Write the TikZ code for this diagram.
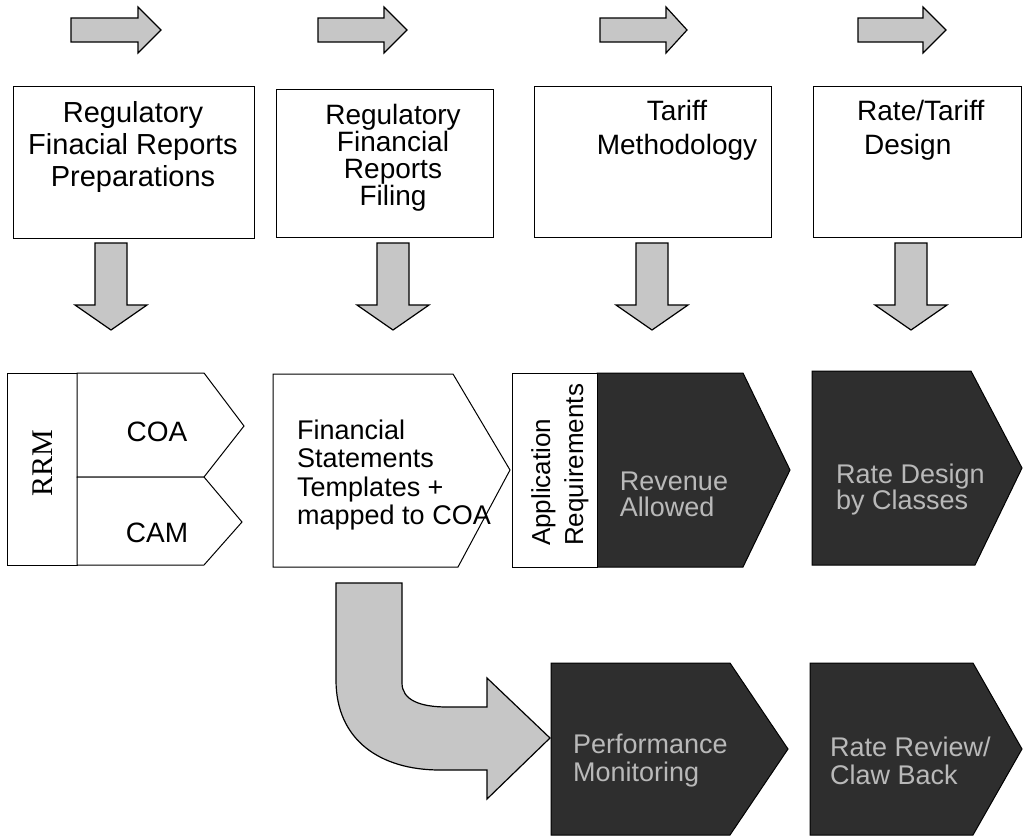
\documentclass[tikz,border=0pt]{standalone}
\usepackage{fontspec}
\setmainfont{Liberation Sans}
\newfontfamily\rrmfont{Liberation Serif}
\begin{document}
\begin{tikzpicture}[x=1pt,y=-1pt,
  line join=miter,
  lightarrow/.style={draw=black,line width=1.2pt,fill=gray!45},
  whitebox/.style={draw=black,line width=1pt,fill=white},
  darkbox/.style={draw=black,line width=1pt,fill=black!82},
  lbl/.style={inner sep=0pt,text=black},
  dlbl/.style={inner sep=0pt,text=gray!55},
]
\useasboundingbox (0,0) rectangle (1023,836);
\fill[white] (0,0) rectangle (1023,836);

% top right-pointing arrows
\foreach \n/\a/\b/\c in {1/71/138/161, 2/318/384/407, 3/600/666/687, 4/858/923/946}{
  \draw[lightarrow] (\a,18) -- (\b,18) -- (\b,7) -- (\c,30) -- (\b,53) -- (\b,42) -- (\a,42) -- cycle;
}

% top boxes
\node[whitebox,minimum width=241pt,minimum height=152pt,anchor=north west] (b1) at (13,86) {};
\node[whitebox,minimum width=217pt,minimum height=148pt,anchor=north west] (b2) at (276,89) {};
\node[whitebox,minimum width=237pt,minimum height=151pt,anchor=north west] (b3) at (534,86) {};
\node[whitebox,minimum width=208pt,minimum height=151pt,anchor=north west] (b4) at (813,86) {};

\node[lbl,align=center,font=\fontsize{29}{32}\selectfont] (t1) at (133,147) {Regulatory\\Finacial Reports\\Preparations};
\node[lbl,align=center,font=\fontsize{28}{27}\selectfont] (t2) at (393,158) {Regulatory\\Financial\\Reports\\Filing};
\node[lbl,align=center,font=\fontsize{28}{34}\selectfont] (t3) at (677,130) {Tariff\\Methodology};
\node[lbl,align=left,font=\fontsize{28}{34}\selectfont,anchor=west] (t4) at (857,130) {Rate/Tariff\\\hspace*{7pt}Design};

% down arrows
\foreach \n/\c in {1/111, 2/393, 3/652, 4/911}{
  \draw[lightarrow] (\c-16,243) -- (\c+16,243) -- (\c+16,305) -- (\c+36,305) -- (\c,330) -- (\c-36,305) -- (\c-16,305) -- cycle;
}

% middle row
\node[whitebox,minimum width=70pt,minimum height=192pt,anchor=north west] (rrm) at (7,373) {};
\node[lbl,rotate=90,font=\rrmfont\fontsize{30}{30}\selectfont] (rrmt) at (43,463) {RRM};
\draw[whitebox] (77,373) -- (204,373) -- (244,426) -- (204,477) -- (77,477) -- cycle;
\draw[whitebox] (77,477) -- (204,477) -- (242,522) -- (204,565) -- (77,565) -- cycle;
\node[lbl,font=\fontsize{28}{28}\selectfont] (coa) at (157,432) {COA};
\node[lbl,font=\fontsize{28}{28}\selectfont] (cam) at (157,533) {CAM};

\draw[whitebox] (273,374) -- (453,374) -- (510,470) -- (458,567) -- (273,567) -- cycle;
\node[lbl,align=left,anchor=west,font=\fontsize{27}{28.5}\selectfont] (fs) at (297,475) {Financial\\Statements\\Templates +\\mapped to COA};

\draw[darkbox] (597,373) -- (743,373) -- (790,470) -- (743,567) -- (597,567) -- cycle;
\node[whitebox,minimum width=85pt,minimum height=194pt,anchor=north west] (app) at (512,373) {};
\node[lbl,rotate=90,align=left,anchor=west,font=\fontsize{26}{33}\selectfont] (appt) at (560,546) {Application\\Requirements};
\node[dlbl,align=left,font=\fontsize{27}{26}\selectfont] (rev) at (674,494) {Revenue\\Allowed};

\draw[darkbox] (812,371) -- (971,371) -- (1022,468) -- (975,565) -- (812,565) -- cycle;
\node[dlbl,align=left,anchor=west,font=\fontsize{27}{26}\selectfont] (rd) at (836,490) {Rate Design\\by Classes};

% bottom row
\draw[lightarrow] (336,583) -- (402,583) -- (402,683) .. controls (402,700) and (420,707) .. (447,707)
  -- (487,707) -- (487,678) -- (550,738) -- (487,799) -- (487,770) -- (440,770)
  .. controls (380,770) and (336,740) .. (336,680) -- cycle;

\draw[darkbox] (551,663) -- (730,663) -- (788,749) -- (730,835) -- (551,835) -- cycle;
\node[dlbl,align=left,anchor=west,font=\fontsize{27}{28}\selectfont] (pm) at (573,761) {Performance\\Monitoring};

\draw[darkbox] (810,663) -- (973,663) -- (1022,749) -- (973,835) -- (810,835) -- cycle;
\node[dlbl,align=left,anchor=west,font=\fontsize{27}{28}\selectfont] (rr) at (830,761) {Rate Review/\\Claw Back};
\end{tikzpicture}
\end{document}
